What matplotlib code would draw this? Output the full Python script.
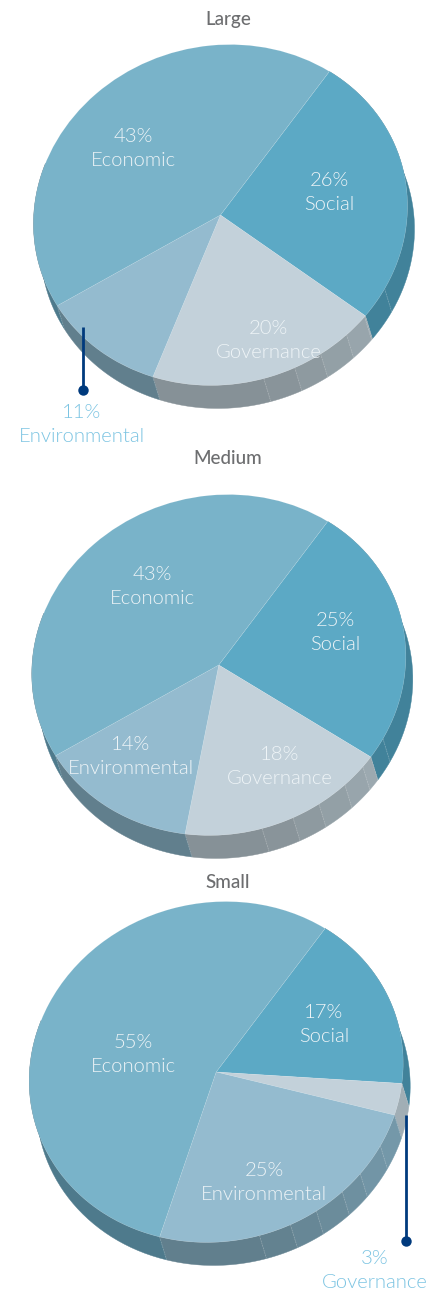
import numpy as np
from matplotlib import pyplot as plt
from matplotlib.colors import to_rgb
from matplotlib.patches import Polygon
from matplotlib.transforms import Affine2D

W, H = 441, 1289

titles = ['Large', 'Medium', 'Small']
categories = ['Social', 'Governance', 'Environmental', 'Economic']
large = [26, 20, 11, 43]
medium = [25, 18, 14, 43]
small = [17, 3, 25, 55]
all_values = [large, medium, small]

top_colours = ['#5ca9c5', '#c3d1da', '#94bbcf', '#79b3c9']
side_colours = ['#41829a', '#869197', '#617f8d', '#4e7a8c']

# layout in picture pixels
centres = [(220.5, 215), (218.8, 665), (216.2, 1072)]
RX, RY = 187, 170.3
DX, DY = 7, 23
SKEW_X, SKEW_Y = 2 / RX, 7 / RY  # disc is slightly tilted
MARGIN = 12
title_pos = [(228, 20), (228, 459), (228, 883)]
label_pos = [
    [(329, 193), (268.5, 340), (81.5, 425), (133, 149)],
    [(335, 632), (280, 767), (130.5, 757), (152, 587)],
    [(324, 1024), (375, 1270), (264, 1183), (133, 1054)],
]
START = 55
seam_angles = [-28, -39, -47, -57, -66, -76]
# outside labels get a leader: picture x, y from, y to
leaders = [(83, 327, 390), None, (405.5, 1115, 1241)]
outside = [2, None, 1]

plt.rcParams['font.family'] = ['Lato', 'DejaVu Sans']
fig = plt.figure(figsize=(W / 100, H / 100), dpi=100)
skew = Affine2D(np.array([[1, SKEW_X, 0], [SKEW_Y, 1, 0], [0, 0, 1]]))


def shade(colour, angle, j):
    # the rim gets lighter towards the right hand side, not on Social
    f = 1.0 if j == 0 else np.interp(angle, [-76, -28], [1.0, 1.2])
    return np.clip(np.array(to_rgb(colour)) * f, 0, 1)


def arc(a0, a1):
    t = np.radians(np.linspace(a0, a1, 40))
    return skew.transform(np.c_[np.cos(t), np.sin(t)])


def rim(ax, a0, a1, colour, dx, dy):
    p = arc(a0, a1)
    pts = np.vstack([p, (p + [dx, dy])[::-1]])
    ax.add_patch(Polygon(pts, closed=True, facecolor=colour, edgecolor=colour,
                         linewidth=0.3, zorder=1))


for i, values in enumerate(all_values):
    cx, cy = centres[i]
    dx, dy = DX / RX, -DY / RY
    left = (cx - RX - MARGIN) / W
    bottom = 1 - (cy + RY + DY + MARGIN) / H
    ax = fig.add_axes([left, bottom, (2 * RX + DX + 2 * MARGIN) / W,
                       (2 * RY + DY + 2 * MARGIN) / H])

    # side of the disc, one facet at a time
    bounds = START - np.cumsum([0] + values) * 3.6
    for j in range(len(values)):
        a0, a1 = bounds[j], bounds[j + 1]
        if j == 0:
            a0 = max(a0, 30)
        if j == 3:
            a1 = max(a1, -200)
        cuts = [a0] + [s for s in seam_angles if a1 < s < a0] + [a1]
        for c0, c1 in zip(cuts[:-1], cuts[1:]):
            rim(ax, c0, c1, shade(side_colours[j], (c0 + c1) / 2, j), dx, dy)
        for c in cuts[1:]:
            if c > -200:
                x, y = skew.transform([[np.cos(np.radians(c)), np.sin(np.radians(c))]])[0]
                ax.plot([x, x + dx], [y, y + dy], color='white', alpha=0.22,
                        lw=0.6, ls=(0, (2, 1)), zorder=2)

    wedges, _ = ax.pie(values, colors=top_colours, startangle=START,
                       counterclock=False, radius=1, frame=False,
                       wedgeprops={'edgecolor': (1, 1, 1, 0.12), 'linewidth': 0.5})
    for w in wedges:
        w.set_zorder(3)
        w.set_transform(skew + ax.transData)
    ax.set_aspect('auto')
    ax.set_xlim(-1 - MARGIN / RX, 1 + dx + MARGIN / RX)
    ax.set_ylim(-1 + dy - MARGIN / RY, 1 + MARGIN / RY)
    ax.axis('off')

# overlay in picture pixels for the texts and leaders
ov = fig.add_axes([0, 0, 1, 1], zorder=5)
ov.set_xlim(0, W)
ov.set_ylim(H, 0)
ov.axis('off')

for i, values in enumerate(all_values):
    ov.text(title_pos[i][0], title_pos[i][1], titles[i], ha='center', va='center',
            fontsize=13.6, color='#6d6e70', fontweight=500)
    for j, v in enumerate(values):
        colour = '#7cc4e2' if outside[i] == j else '#eef4f7'
        x, y = label_pos[i][j]
        ov.text(x, y - 12, f'{v}%', ha='center', va='center', fontsize=14.6,
                color=colour, fontweight=300)
        ov.text(x, y + 12, categories[j], ha='center', va='center', fontsize=14.6,
                color=colour, fontweight=300)
    if leaders[i] is not None:
        lx, y0, y1 = leaders[i]
        ov.plot([lx, lx], [y0, y1], color='#003a7d', lw=2, solid_capstyle='butt')
        ov.plot([lx], [y1], 'o', color='#003a7d', ms=7.5, mew=0)

fig.savefig('out.png', dpi=100)
